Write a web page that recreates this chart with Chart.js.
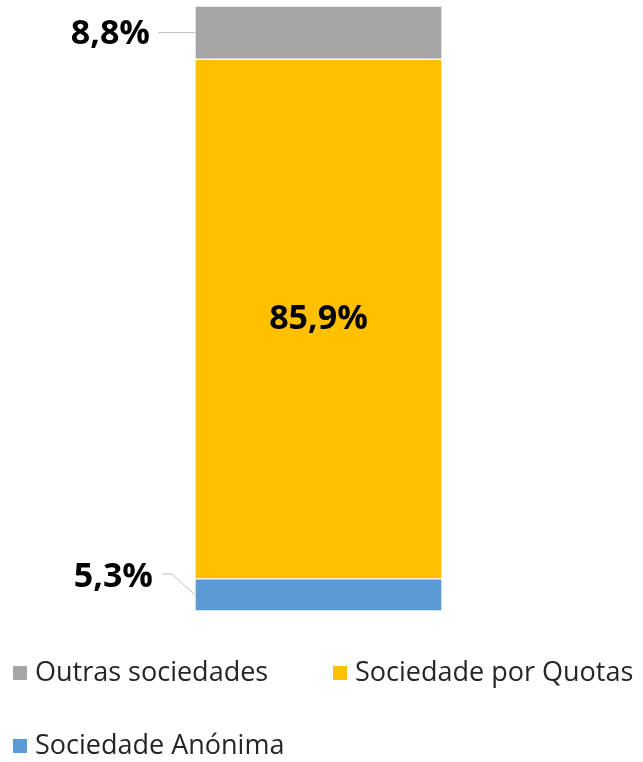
<!DOCTYPE html>
<html>
<head>
<meta charset="utf-8">
<script src="https://cdn.jsdelivr.net/npm/chart.js@4/dist/chart.umd.min.js"></script>
<style>
html,body{margin:0;padding:0;background:#fff;}
#wrap{width:643px;height:762px;position:relative;}
</style>
</head>
<body>
<div id="wrap"><canvas id="c" width="643" height="762"></canvas></div>
<script>
const categories = ['2019'];
const seriesNames = ['Sociedade Anónima', 'Sociedade por Quotas', 'Outras sociedades'];
const anonima = [5.3];
const quotas = [85.9];
const outras = [8.8];
const colors = ['#5B9BD5', '#FFC000', '#A5A5A5'];
const legendOrder = [2, 1, 0];

const fmt = v => v.toFixed(1).replace('.', ',') + '%';

const labelPlugin = {
  id: 'labels',
  afterDatasetsDraw(chart) {
    const ctx = chart.ctx;
    ctx.save();
    ctx.font = 'bold 34px "Open Sans"';
    ctx.fillStyle = '#000';
    ctx.textBaseline = 'middle';
    ctx.strokeStyle = '#BFBFBF';
    ctx.lineWidth = 1;
    // Sociedade Anónima (bottom)
    const mA = chart.getDatasetMeta(0).data[0];
    const vA = chart.data.datasets[0].data[0];
    const lA = mA.x - mA.width / 2;
    const cA = (mA.y + mA.base) / 2;
    ctx.textAlign = 'right';
    ctx.fillText(fmt(vA), lA - 42, cA - 18);
    ctx.beginPath();
    ctx.moveTo(lA - 33, cA - 21);
    ctx.lineTo(lA - 23, cA - 21);
    ctx.lineTo(lA, cA);
    ctx.stroke();
    // Quotas (middle)
    const mQ = chart.getDatasetMeta(1).data[0];
    const vQ = chart.data.datasets[1].data[0];
    ctx.textAlign = 'center';
    ctx.fillText(fmt(vQ), mQ.x, (mQ.y + mQ.base) / 2);
    // Outras (top)
    const mO = chart.getDatasetMeta(2).data[0];
    const vO = chart.data.datasets[2].data[0];
    const lO = mO.x - mO.width / 2;
    const yO = (mO.y + mO.base) / 2;
    ctx.textAlign = 'right';
    ctx.fillText(fmt(vO), lO - 45, yO + 2);
    ctx.beginPath();
    ctx.moveTo(lO - 37, yO);
    ctx.lineTo(lO, yO);
    ctx.stroke();
    ctx.restore();
  }
};

const legendPlugin = {
  id: 'customLegend',
  afterDraw(chart) {
    const ctx = chart.ctx;
    ctx.save();
    ctx.font = '27px "Open Sans"';
    ctx.textBaseline = 'middle';
    ctx.textAlign = 'left';
    const slots = [[13, 673], [333, 673], [13, 746]];
    legendOrder.forEach((di, i) => {
      const ds = chart.data.datasets[di];
      const [x, y] = slots[i];
      ctx.fillStyle = ds.backgroundColor;
      ctx.fillRect(x, y - 7, 14, 14);
      ctx.fillStyle = '#262626';
      ctx.fillText(ds.label, x + 22, y);
    });
    ctx.restore();
  }
};

new Chart(document.getElementById('c'), {
  type: 'bar',
  data: {
    labels: categories,
    datasets: [
      { label: seriesNames[0], data: anonima, backgroundColor: colors[0] },
      { label: seriesNames[1], data: quotas, backgroundColor: colors[1] },
      { label: seriesNames[2], data: outras, backgroundColor: colors[2] }
    ].map(d => Object.assign(d, { borderColor: '#fff', borderWidth: 1, borderSkipped: false, barPercentage: 1, categoryPercentage: 1 }))
  },
  options: {
    responsive: false,
    animation: false,
    layout: { padding: { left: 195, right: 201, top: 6, bottom: 151 } },
    scales: {
      x: { stacked: true, display: false },
      y: { stacked: true, display: false, min: 0, max: 100 }
    },
    plugins: { legend: { display: false }, tooltip: { enabled: false } }
  },
  plugins: [labelPlugin, legendPlugin]
});
</script>
</body>
</html>
